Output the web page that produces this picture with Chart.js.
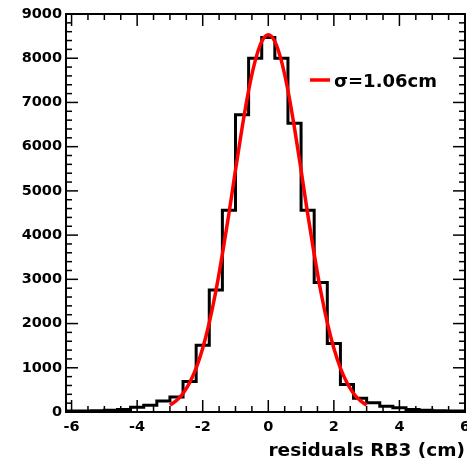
<!DOCTYPE html>
<html><head><meta charset="utf-8">
<script src="https://cdn.jsdelivr.net/npm/chart.js@4/dist/chart.umd.min.js"></script>
<style>html,body{margin:0;padding:0;background:#fff;} #wrap{width:467px;height:462px;}</style>
</head><body><div id="wrap"><canvas id="c" width="467" height="462"></canvas></div>
<script>
// Histogram bins (centres, cm) and counts
const binCenters = [-6.0,-5.6,-5.2,-4.8,-4.4,-4.0,-3.6,-3.2,-2.8,-2.4,-2.0,-1.6,-1.2,-0.8,-0.4,0.0,0.4,0.8,1.2,1.6,2.0,2.4,2.8,3.2,3.6,4.0,4.4,4.8,5.2,5.6,6.0];
const binCounts  = [20,25,30,40,55,110,150,250,340,690,1510,2760,4560,6720,8000,8470,8000,6530,4560,2930,1550,620,310,210,130,95,55,40,30,25,20];
const binWidth = 0.4;
// Gaussian fit curve
const fitX = [-3.0,-2.8,-2.6,-2.4,-2.2,-2.0,-1.8,-1.6,-1.4,-1.2,-1.0,-0.8,-0.6,-0.4,-0.2,0.0,0.2,0.4,0.6,0.8,1.0,1.2,1.4,1.6,1.8,2.0,2.2,2.4,2.6,2.8,3.0];
const fitY = [155,260,420,660,990,1440,2020,2730,3570,4490,5470,6420,7270,7940,8380,8530,8380,7940,7270,6420,5470,4490,3570,2730,2020,1440,990,660,420,260,155];
// Tick labels
const xTickLabels = [-6,-4,-2,0,2,4,6];
const yTickLabels = [0,1000,2000,3000,4000,5000,6000,7000,8000,9000];
const xTitle = 'residuals RB3 (cm)';
const legendText = 'σ=1.06cm';

const FONT = 'DejaVu Sans';
const near = (a,b) => Math.abs(a-b) < 1e-6;
const xMajor = v => xTickLabels.find(t => near(t, v));
const yMajor = v => yTickLabels.find(t => near(t, v));

const histPoints = binCenters.map((c,i) => ({x: c - binWidth/2, y: binCounts[i]}));
histPoints.push({x: binCenters[binCenters.length-1] + binWidth/2, y: binCounts[binCounts.length-1]});
const fitPoints = fitX.map((x,i) => ({x, y: fitY[i]}));

const frameTicks = {
  id: 'frameTicks',
  afterDraw(chart) {
    const {ctx, chartArea: {left, right, top, bottom}, scales: {x, y}} = chart;
    ctx.save();
    ctx.strokeStyle = '#000';
    const seg = (a,b,c,d) => { ctx.beginPath(); ctx.moveTo(a,b); ctx.lineTo(c,d); ctx.stroke(); };
    ctx.lineWidth = 2;
    ctx.strokeRect(left, top, right-left, bottom-top);
    ctx.lineWidth = 1.5;
    x.ticks.forEach(t => {
      const v = t.value;
      if (!near(v*2, Math.round(v*2))) return;
      const px = x.getPixelForValue(v);
      const len = xMajor(v) !== undefined ? 12 : 6;
      seg(px, bottom, px, bottom - len);
      seg(px, top, px, top + len);
    });
    y.ticks.forEach(t => {
      const v = t.value;
      const py = y.getPixelForValue(v);
      const len = yMajor(v) !== undefined ? 12 : 6;
      seg(left, py, left + len, py);
      seg(right, py, right - len, py);
    });
    ctx.restore();
  }
};

const fitLegend = {
  id: 'fitLegend',
  afterDraw(chart) {
    const {ctx, chartArea: {left, top}} = chart;
    ctx.save();
    ctx.strokeStyle = '#ff0000';
    ctx.lineWidth = 3.5;
    ctx.beginPath(); ctx.moveTo(left + 244, top + 66); ctx.lineTo(left + 264, top + 66); ctx.stroke();
    ctx.fillStyle = '#000';
    ctx.font = 'bold 18px "' + FONT + '"';
    ctx.textBaseline = 'alphabetic';
    ctx.textAlign = 'left';
    ctx.fillText(legendText, left + 268, top + 73);
    ctx.restore();
  }
};

new Chart(document.getElementById('c'), {
  type: 'line',
  data: {
    datasets: [
      {label: 'fit', data: fitPoints, borderColor: '#ff0000', borderWidth: 3.5, pointRadius: 0, cubicInterpolationMode: 'monotone', fill: false, order: 0},
      {label: 'hist', data: histPoints, borderColor: '#000000', borderWidth: 3, pointRadius: 0, stepped: 'before', fill: false, order: 1}
    ]
  },
  options: {
    responsive: false,
    animation: false,
    devicePixelRatio: 1,
    layout: {padding: {top: 14, right: 2, left: 0, bottom: 0}},
    plugins: {legend: {display: false}, tooltip: {enabled: false}},
    scales: {
      x: {
        type: 'linear', min: -6.17, max: 6,
        grid: {display: false, drawTicks: false}, border: {display: false},
        ticks: {
          stepSize: 0.5, includeBounds: false, autoSkip: false, maxRotation: 0, minRotation: 0, padding: 7, color: '#000',
          font: {family: FONT, weight: 'bold', size: 14.5},
          callback: v => { const m = xMajor(v); return m !== undefined ? String(m) : ''; }
        },
        title: {display: true, text: xTitle, align: 'end', color: '#000', font: {family: FONT, weight: 'bold', size: 18.5}, padding: {top: 0, bottom: 0}},
        afterFit(s) { s.height = 50; s.paddingLeft = 0; s.paddingRight = 0; }
      },
      y: {
        type: 'linear', min: 0, max: 9000,
        grid: {display: false, drawTicks: false}, border: {display: false},
        ticks: {
          stepSize: 200, autoSkip: false, padding: 4, color: '#000',
          font: {family: FONT, weight: 'bold', size: 14.5},
          callback: v => { const m = yMajor(v); return m !== undefined ? String(m) : ''; }
        },
        afterFit(s) { s.width = 66; s.paddingTop = 0; s.paddingBottom = 0; }
      }
    }
  },
  plugins: [frameTicks, fitLegend]
});
</script>
</body></html>
